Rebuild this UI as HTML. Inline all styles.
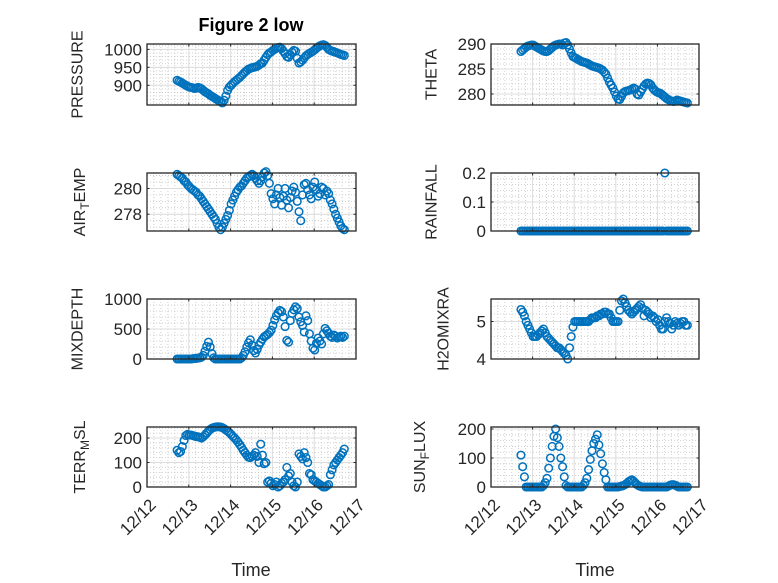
<!DOCTYPE html>
<html><head><meta charset="utf-8"><style>
html,body{margin:0;padding:0;background:#fff;}
svg{display:block;font-family:"Liberation Sans",sans-serif;}
</style></head><body>
<svg id="fig" width="778" height="583" viewBox="0 0 778 583" xmlns="http://www.w3.org/2000/svg">
<rect x="0" y="0" width="778" height="583" fill="#ffffff"/>
<text x="251" y="31" text-anchor="middle" font-size="18" font-weight="bold" fill="#000">Figure 2 low</text>
<text x="251" y="576" text-anchor="middle" font-size="18" fill="#262626">Time</text>
<text x="595" y="576" text-anchor="middle" font-size="18" fill="#262626">Time</text>
</svg>
<script>
const xTickLabels = ["12/12","12/13","12/14","12/15","12/16","12/17"];
const startDay = 0.72;
const pressure = [914,911,909,906,903,900,897,895,894,893,891,892,894,893,890,886,882,879,876,872,869,866,863,860,857,854,851,858,870,886,895,900,905,910,914,918,922,927,932,937,941,945,947,949,950,951,953,956,960,962,970,978,985,990,993,997,1000,1003,1005,1006,1002,995,988,980,978,985,992,997,995,975,962,965,970,976,982,986,989,992,995,999,1003,1007,1010,1012,1013,1011,1006,1000,997,995,994,992,990,988,986,985,983];
const theta = [288.5,288.8,289.1,289.4,289.6,289.7,289.8,289.8,289.6,289.4,289.2,289.0,288.8,288.6,288.5,288.5,288.7,289.0,289.3,289.6,289.8,289.9,290.0,290.0,289.8,290.2,290.3,289.8,289.0,288.2,287.5,287.3,287.1,286.9,286.7,286.5,286.4,286.3,286.2,286.0,285.8,285.6,285.5,285.4,285.3,285.2,285.0,284.8,284.4,284.0,283.2,282.4,281.8,281.2,280.4,279.6,279.0,278.9,279.5,280.2,280.5,280.6,280.7,280.8,281.0,281.2,281.0,280.0,279.8,280.4,281.0,281.6,282.0,282.2,282.1,281.8,281.2,280.8,280.5,280.3,280.2,280.0,279.7,279.4,279.1,278.9,278.7,278.6,278.5,278.6,278.8,278.7,278.6,278.5,278.4,278.3,278.2];
const airTemp = [281.1,281.0,280.9,280.8,280.6,280.5,280.3,280.15,280.0,279.9,279.8,279.7,279.5,279.4,279.2,279.0,278.8,278.6,278.4,278.2,278.0,277.8,277.6,277.3,277.0,276.8,277.0,277.3,277.6,277.9,278.3,278.8,279.1,279.4,279.7,279.9,280.1,280.2,280.4,280.6,280.8,280.9,281.0,281.1,281.0,280.8,280.6,280.4,280.6,280.9,281.2,281.3,281.0,280.4,279.6,279.2,278.8,279.5,280.0,279.3,278.7,279.4,280.0,279.1,278.5,279.3,279.8,280.1,279.7,279.0,278.2,277.5,279.5,280.3,280.4,279.9,279.5,279.2,280.1,280.5,279.9,279.4,279.6,280.1,280.0,279.5,279.8,279.6,279.1,278.8,278.4,278.0,277.7,277.4,277.1,276.9,276.8];
const rainfall = [0,0,0,0,0,0,0,0,0,0,0,0,0,0,0,0,0,0,0,0,0,0,0,0,0,0,0,0,0,0,0,0,0,0,0,0,0,0,0,0,0,0,0,0,0,0,0,0,0,0,0,0,0,0,0,0,0,0,0,0,0,0,0,0,0,0,0,0,0,0,0,0,0,0,0,0,0,0,0,0,0,0,0,0.2,0,0,0,0,0,0,0,0,0,0,0,0,0];
const mixDepth = [0,0,0,0,0,0,0,0,0,5,10,10,15,20,30,60,130,210,280,200,90,20,0,0,0,0,0,0,0,0,0,0,0,0,0,0,0,20,60,120,200,270,320,230,140,100,160,230,280,330,370,390,410,440,480,560,650,720,770,810,790,700,540,310,280,640,760,820,870,840,700,620,560,450,720,640,420,300,180,150,260,350,300,250,420,510,470,430,380,360,400,380,350,370,380,360,380];
const h2oMix = [5.32,5.25,5.15,5.0,4.9,4.8,4.7,4.6,4.6,4.6,4.65,4.7,4.75,4.8,4.7,4.6,4.55,4.5,4.45,4.4,4.35,4.3,4.3,4.25,4.2,4.15,4.1,4.0,4.3,4.6,4.85,5.0,5.0,5.0,5.0,5.0,5.0,5.0,5.0,5.0,5.05,5.1,5.1,5.1,5.15,5.15,5.2,5.2,5.25,5.25,5.2,5.2,5.1,5.0,5.0,5.0,5.0,5.3,5.55,5.6,5.5,5.4,5.3,5.25,5.2,5.25,5.3,5.35,5.4,5.45,5.35,5.15,5.3,5.25,5.2,5.1,5.15,5.1,5.0,5.05,4.9,4.8,4.8,5.0,5.1,5.0,4.95,4.8,4.9,5.0,4.95,4.9,4.95,5.0,5.0,4.9,4.9];
const terrMsl = [150,140,145,165,190,210,215,212,212,210,208,206,205,203,200,205,212,220,228,235,240,243,245,246,246,245,242,238,233,228,222,215,207,200,192,183,173,162,150,140,130,122,120,125,130,140,125,100,175,130,95,100,20,25,15,5,10,20,0,5,15,20,30,80,45,55,20,5,0,20,135,125,115,140,120,100,55,50,30,25,20,15,10,5,0,0,5,10,50,70,90,100,110,120,130,140,155];
const sunFlux = [110,70,35,0,0,0,0,0,0,0,0,0,0,5,15,30,65,100,140,175,200,170,140,100,70,35,5,0,0,0,0,0,0,0,0,0,5,15,30,60,95,125,150,165,180,145,115,80,50,25,0,0,0,0,0,0,0,2,3,5,8,12,18,22,25,20,14,8,4,2,0,0,0,0,0,0,0,0,0,0,0,0,0,0,0,3,6,8,8,6,3,0,0,0,0,0,0];

const svg = document.getElementById('fig');
const NS = 'http://www.w3.org/2000/svg';
function mk(tag, attrs, parent){ const e=document.createElementNS(NS,tag); for(const k in attrs) e.setAttribute(k,attrs[k]); (parent||svg).appendChild(e); return e; }

const cols=[{x0:147,x1:356},{x0:491,x1:699}];
const rows=[{y0:44,y1:105},{y0:173,y1:231},{y0:299,y1:359},{y0:427,y1:487}];
const panels=[
 {name:'pressure',data:pressure,col:0,row:0,lim:[845,1015],ticks:[900,950,1000],minor:10,label:['PRESSURE'],lx:78},
 {name:'theta',data:theta,col:1,row:0,lim:[277.8,290],ticks:[280,285,290],minor:1,label:['THETA'],lx:432},
 {name:'air-temp',data:airTemp,col:0,row:1,lim:[276.7,281.2],ticks:[278,280],minor:0.5,label:['AIR','T','EMP'],lx:80},
 {name:'rainfall',data:rainfall,col:1,row:1,lim:[0,0.2],ticks:[0,0.1,0.2],minor:0.02,label:['RAINFALL'],lx:432},
 {name:'mixdepth',data:mixDepth,col:0,row:2,lim:[0,1000],ticks:[0,500,1000],minor:100,label:['MIXDEPTH'],lx:78},
 {name:'h2omixra',data:h2oMix,col:1,row:2,lim:[4,5.6],ticks:[4,5],minor:0.2,label:['H2OMIXRA'],lx:444},
 {name:'terr-msl',data:terrMsl,col:0,row:3,lim:[0,245],ticks:[0,100,200],minor:20,label:['TERR','M','SL'],lx:80},
 {name:'sun-flux',data:sunFlux,col:1,row:3,lim:[0,207],ticks:[0,100,200],minor:20,label:['SUN','F','LUX'],lx:420}
];

panels.forEach(p=>{
  const c=cols[p.col], r=rows[p.row];
  const xs=d=>c.x0+(d/5)*(c.x1-c.x0);
  const ys=v=>r.y1-(v-p.lim[0])/(p.lim[1]-p.lim[0])*(r.y1-r.y0);
  const g=mk('g',{});
  
  
  mk('rect',{x:c.x0,y:r.y0,width:c.x1-c.x0,height:r.y1-r.y0,fill:'#fff'},g);
  for(let k=1;k<30;k++){ if(k%6===0) continue; const x=xs(k/6);
    mk('line',{x1:x,x2:x,y1:r.y0,y2:r.y1,stroke:'#c4c4c4','stroke-width':0.8,'stroke-dasharray':'1 2'},g);}
  const m0=Math.ceil(p.lim[0]/p.minor-1e-6);
  for(let k=m0;k*p.minor<=p.lim[1]+1e-9;k++){ const v=k*p.minor; const y=ys(v);
    if(y<=r.y0+0.5||y>=r.y1-0.5) continue;
    mk('line',{x1:c.x0,x2:c.x1,y1:y,y2:y,stroke:'#c4c4c4','stroke-width':0.8,'stroke-dasharray':'1 2'},g);}
  for(let k=1;k<5;k++){ const x=xs(k); mk('line',{x1:x,x2:x,y1:r.y0,y2:r.y1,stroke:'#dcdcdc','stroke-width':1},g);}
  p.ticks.forEach(v=>{ const y=ys(v); if(y>r.y0+0.5&&y<r.y1-0.5) mk('line',{x1:c.x0,x2:c.x1,y1:y,y2:y,stroke:'#dcdcdc','stroke-width':1},g);});
  p.data.forEach((v,i)=>{
    const d=startDay+i/24;
    const m=mk('circle',{cx:xs(d).toFixed(2),cy:ys(v).toFixed(2),r:3.8,fill:'none',stroke:'#0072BD','stroke-width':1.5},g);
    
    
  });
  mk('rect',{x:c.x0,y:r.y0,width:c.x1-c.x0,height:r.y1-r.y0,fill:'none',stroke:'#262626','stroke-width':1.3},g);
  for(let k=1;k<5;k++){ const x=xs(k);
    mk('line',{x1:x,x2:x,y1:r.y1,y2:r.y1-2.5,stroke:'#262626','stroke-width':1},g);
    mk('line',{x1:x,x2:x,y1:r.y0,y2:r.y0+2.5,stroke:'#262626','stroke-width':1},g);}
  p.ticks.forEach(v=>{ const y=ys(v);
    mk('line',{x1:c.x0,x2:c.x0+2.5,y1:y,y2:y,stroke:'#262626','stroke-width':1},g);
    mk('line',{x1:c.x1,x2:c.x1-2.5,y1:y,y2:y,stroke:'#262626','stroke-width':1},g);
    const t=mk('text',{x:c.x0-5,y:y+6,'text-anchor':'end','font-size':17,fill:'#262626'},g);
    t.textContent=String(v);
    
    
  });
  const cy=(r.y0+r.y1)/2;
  const lb=mk('text',{x:p.lx,y:cy,transform:`rotate(-90 ${p.lx} ${cy})`,'text-anchor':'middle','font-size':16,fill:'#262626','dominant-baseline':'central'},g);
  
  
  if(p.label.length===1){ lb.textContent=p.label[0]; }
  else {
    const a=mk('tspan',{},lb); a.textContent=p.label[0];
    const b=mk('tspan',{dy:5,'font-size':12},lb); b.textContent=p.label[1];
    const cc=mk('tspan',{dy:-5},lb); cc.textContent=p.label[2];
  }
  if(p.row===3){
    xTickLabels.forEach((s,k)=>{ const x=xs(k)+10, y=r.y1+19;
      const t=mk('text',{x:x,y:y,'text-anchor':'end','font-size':17,fill:'#262626',transform:`rotate(-45 ${x} ${y})`},g);
      t.textContent=s;
      
      
    });
  }
});
</script>
</body></html>
